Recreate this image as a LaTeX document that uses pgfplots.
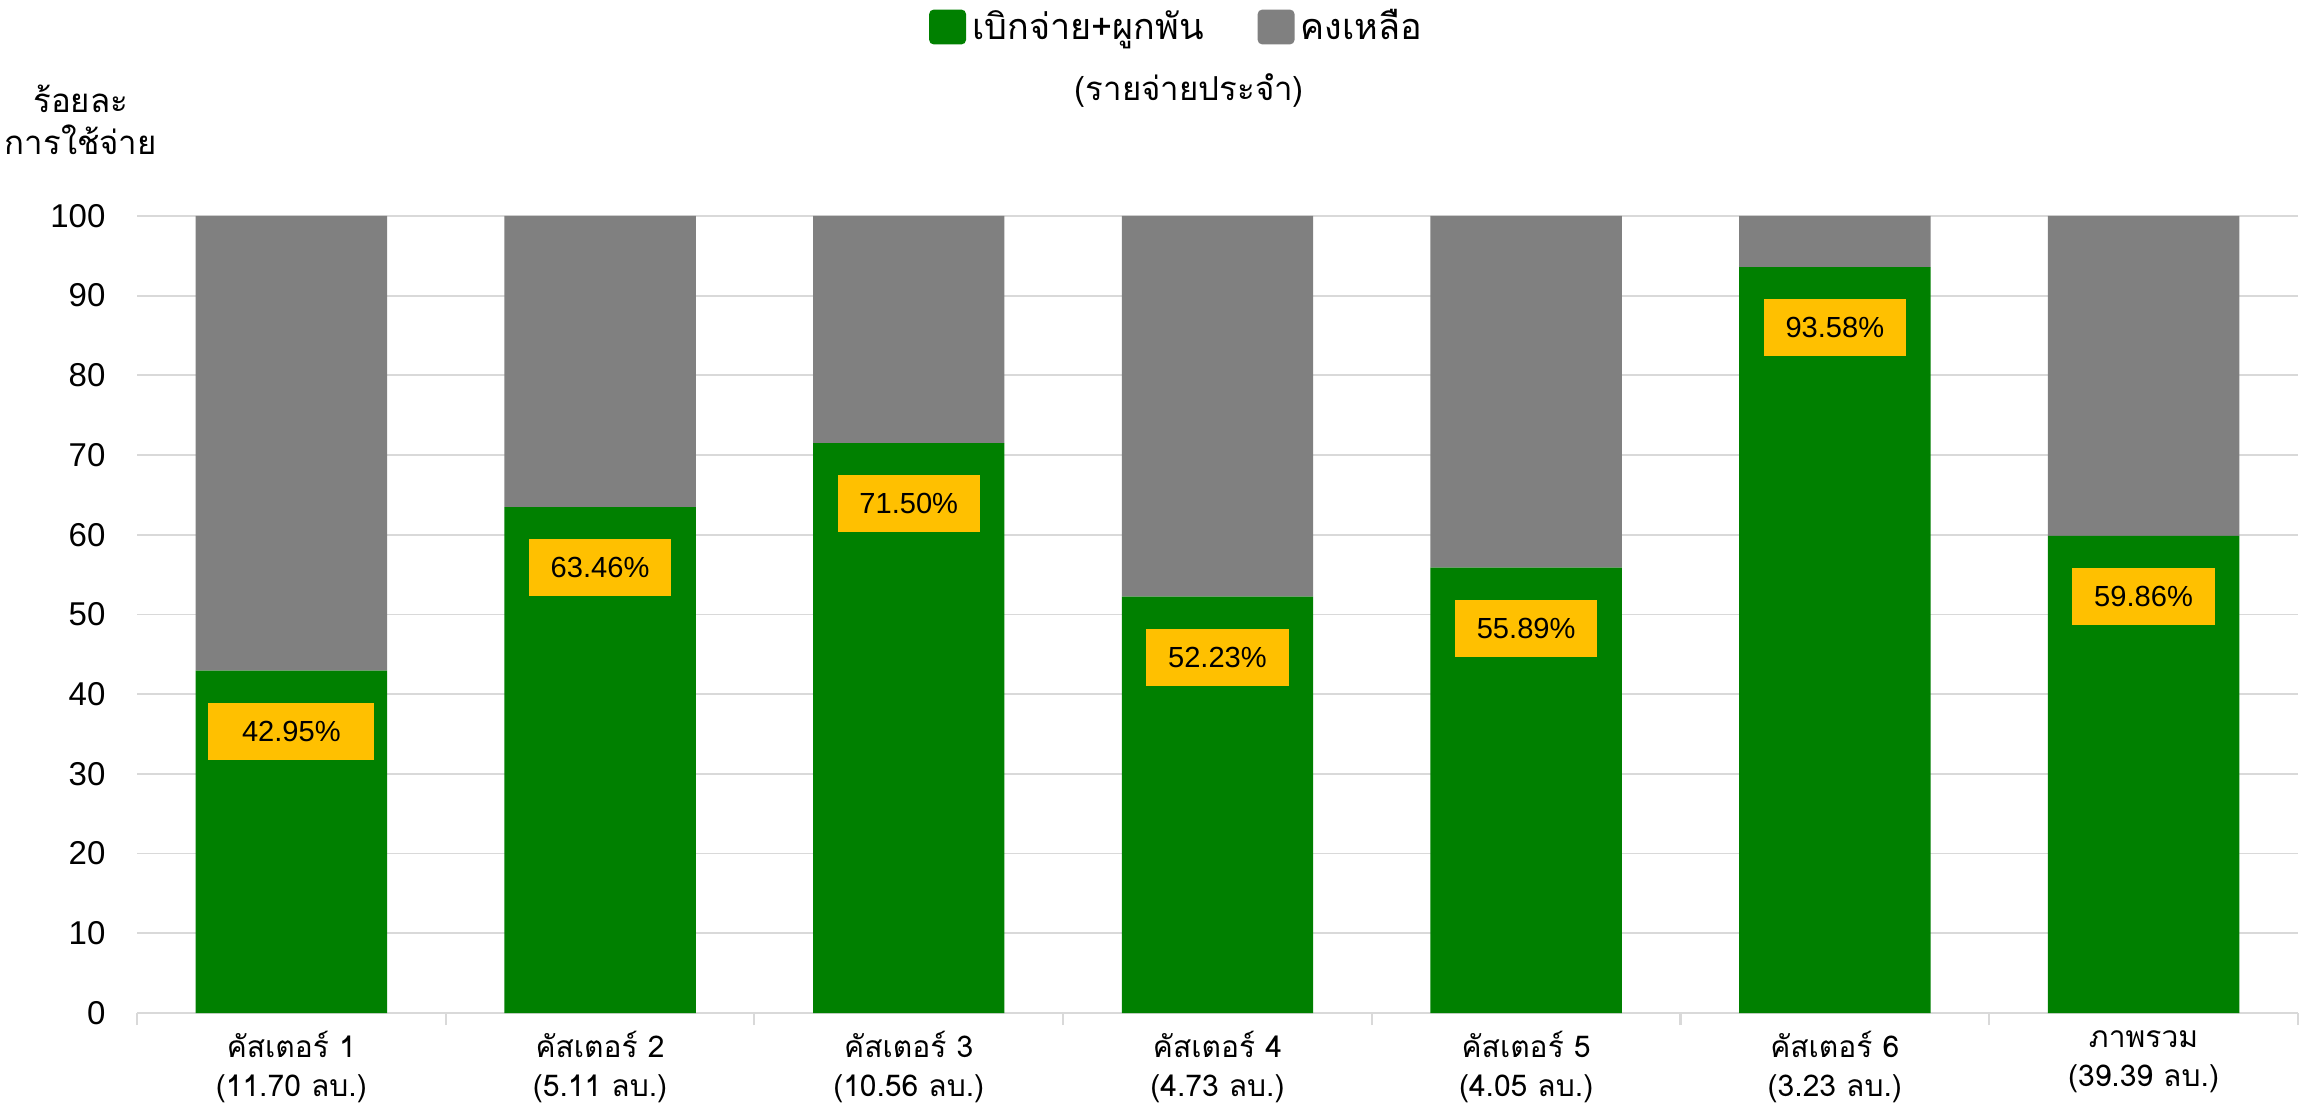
\documentclass[border=0pt]{standalone}
\usepackage{pgfplots}
\pgfplotsset{compat=1.18}
\usepackage{fontspec}
\setmainfont{Liberation Sans}
\newfontfamily\thai[Script=Thai]{Loma}
\definecolor{spent}{HTML}{008000}
\definecolor{remain}{HTML}{808080}
\definecolor{lbl}{HTML}{FFC000}
\definecolor{gridc}{HTML}{D9D9D9}

\begin{document}
\begin{tikzpicture}
\begin{axis}[
  at={(0,0)}, anchor=south west,
  scale only axis, width=720.3pt, height=265.7pt,
  ybar stacked, bar width=0.62,
  xmin=-0.5, xmax=6.5, ymin=0, ymax=100,
  clip=false,
  xtick={0,...,6},
  xticklabels={{คัสเตอร์ 1\\(11.70 ลบ.)},{คัสเตอร์ 2\\(5.11 ลบ.)},{คัสเตอร์ 3\\(10.56 ลบ.)},{คัสเตอร์ 4\\(4.73 ลบ.)},{คัสเตอร์ 5\\(4.05 ลบ.)},{คัสเตอร์ 6\\(3.23 ลบ.)},{ภาพรวม\\(39.39 ลบ.)}},
  minor xtick={-0.5,0.5,...,6.5},
  ytick={0,10,...,100},
  major tick length=0pt, minor tick length=4pt, tick align=outside,
  major tick style={draw=none},
  minor tick style={gridc, line width=0.7pt},
  axis lines*=left,
  x axis line style={gridc, line width=0.7pt},
  y axis line style={draw=none},
  ymajorgrids, major grid style={gridc, line width=0.6pt},
  /pgf/number format/assume math mode=true,
  yticklabel style={font=\fontsize{11}{13}\selectfont, xshift=-7pt},
  xticklabel style={font=\thai\fontsize{10}{13}\selectfont, align=center, yshift=-2.5pt},
  legend columns=2,
  legend style={at={(0.482,1.237)}, anchor=center, draw=none, fill=none,
    font=\thai\fontsize{12}{14}\selectfont,
    /tikz/every even column/.append style={column sep=16pt}},
]
\addplot[fill=spent, draw=none,
  legend image code/.code={\fill[spent, rounded corners=1.5pt] (0pt,-5.8pt) rectangle (12.3pt,5.8pt);},
  visualization depends on={rawy \as \rawy},
  visualization depends on={rawx \as \rawx},
  nodes near coords={\pgfmathprintnumber[fixed,fixed zerofill,precision=2]{\pgfplotspointmeta}\%},
  nodes near coords align={center},
  every node near coord/.append style={yshift={\rawy*1.3285-20.2}, fill=lbl, text=black,
    font=\fontsize{9.7}{11}\selectfont, minimum height=19pt,
    minimum width={ifthenelse(\rawx<0.5,55.3,47.5)}, inner sep=0pt}]
  coordinates {(0,42.95) (1,63.46) (2,71.50) (3,52.23) (4,55.89) (5,93.58) (6,59.86)};
\addlegendentry{เบิกจ่าย+ผูกพัน}
\addplot[fill=remain, draw=none,
  legend image code/.code={\fill[remain, rounded corners=1.5pt] (0pt,-5.8pt) rectangle (12.3pt,5.8pt);}]
  coordinates {(0,57.05) (1,36.54) (2,28.50) (3,47.77) (4,44.11) (5,6.42) (6,40.14)};
\addlegendentry{คงเหลือ}
\node[font=\thai\fontsize{11}{14}\selectfont, align=center] at (rel axis cs:-0.026,1.12) {ร้อยละ\\การใช้จ่าย};
\node[font=\thai\fontsize{11}{13}\selectfont] at (rel axis cs:0.487,1.157) {(รายจ่ายประจำ)};
\end{axis}
\pgfresetboundingbox
\path (-45.67pt,-32.33pt) rectangle (722pt,337.67pt);
\end{tikzpicture}
\end{document}
